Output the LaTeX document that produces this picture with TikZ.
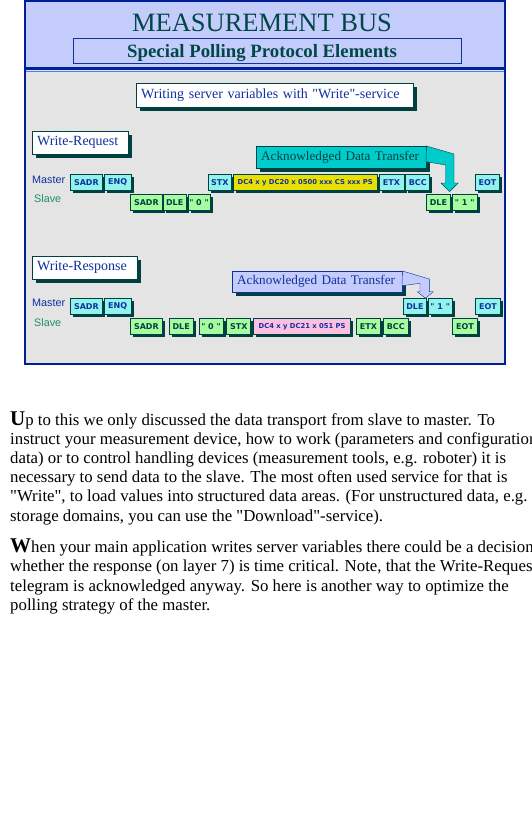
\documentclass[tikz,border=0pt]{standalone}
\usepackage{fontspec}
\setmainfont{Liberation Serif}[Ligatures=TeXOff]
\setsansfont{Liberation Sans}[Ligatures=TeXOff]
\newfontfamily\pixfont{DejaVu Sans}[Ligatures=TeXOff]
\usetikzlibrary{shapes, arrows, positioning, shadows}

\definecolor{headbg}{RGB}{196,204,252}
\definecolor{graybg}{RGB}{228,228,228}
\definecolor{framec}{RGB}{0,32,150}
\definecolor{lightline}{RGB}{64,128,255}
\definecolor{titlec}{RGB}{0,72,72}
\definecolor{inktext}{RGB}{16,48,160}
\definecolor{slavec}{RGB}{32,144,96}
\definecolor{shadowc}{RGB}{0,64,64}
\definecolor{mfill}{RGB}{144,244,236}
\definecolor{sfill}{RGB}{168,252,160}
\definecolor{datay}{RGB}{232,224,0}
\definecolor{datap}{RGB}{252,192,224}
\definecolor{ackteal}{RGB}{0,204,204}

\newcommand\capletter[1]{{\fontsize{21}{21}\selectfont\bfseries #1}}

\begin{document}
\begin{tikzpicture}[x=1pt, y=-1pt]
            \tikzstyle{tag}=[draw=shadowc, fill=white, anchor=north west, inner xsep=5pt, inner ysep=0pt, align=left, text=inktext, font=\fontsize{14}{16}\selectfont, drop shadow={shadow xshift=4pt, shadow yshift=-4pt, fill=shadowc, opacity=1}]
            \tikzstyle{ack}=[anchor=north west, inner xsep=5pt, inner ysep=0pt, minimum height=22pt, text width=160pt, align=left, font=\fontsize{13.2}{14}\selectfont, drop shadow={shadow xshift=3.5pt, shadow yshift=-3.5pt, fill=shadowc, opacity=1}]
            \tikzstyle{cell}=[draw=shadowc, line width=0.8pt, minimum height=16pt, inner sep=0pt, anchor=north west, font=\pixfont\bfseries\fontsize{8}{8}\selectfont, drop shadow={shadow xshift=2.5pt, shadow yshift=-2.5pt, fill=shadowc, opacity=1}]
            \tikzstyle{mcell}=[cell, fill=mfill, text=inktext]
            \tikzstyle{scell}=[cell, fill=sfill, text=shadowc]
            \tikzstyle{datacell}=[cell, text=inktext, font=\pixfont\bfseries\fontsize{6.8}{8}\selectfont]
            \tikzstyle{rowlabel}=[anchor=west, inner sep=0pt, font=\sffamily\fontsize{10.8}{12}\selectfont]
            \tikzstyle{body}=[anchor=base west, inner sep=0pt, font=\fontsize{16.8}{19}\selectfont]
            \clip (0,0) rectangle (531,840);
            \fill[white] (0,0) rectangle (531,840);
            \fill[graybg] (25,1) rectangle (505,364);
            \fill[headbg] (25,1) rectangle (505,67);
            \fill[framec] (25,67) rectangle (505,70.5);
            \draw[lightline, line width=1pt] (25,72) -- (505,72);
            \draw[framec, line width=1.5pt] (25,1) rectangle (505,364);
            \node[anchor=base, text=titlec, font=\fontsize{26.5}{30}\selectfont] (title) at (262,31.5) {MEASUREMENT BUS};
            \node[draw=inktext, line width=1pt, minimum width=388pt, minimum height=25pt, inner sep=0pt, anchor=north west] (subbox) at (73,38) {};
            \node[anchor=base, text=titlec, font=\bfseries\fontsize{18.8}{20}\selectfont] (subtitle) at (262,57.5) {Special Polling Protocol Elements};
            \node[tag, text width=267pt, minimum height=24pt] (writing) at (136,83) {Writing server variables with "Write"-service};
            \node[tag, text width=86pt, minimum height=23pt] (request) at (32,131) {Write-Request};
            \node[tag, text width=95pt, minimum height=23pt] (response) at (32,256) {Write-Response};
            \node[rowlabel, text=inktext] (rqmaster) at (32,180) {Master};
            \node[rowlabel, text=slavec] (rqslave) at (34,199) {Slave};
            \node[rowlabel, text=inktext] (rsmaster) at (32,303) {Master};
            \node[rowlabel, text=slavec] (rsslave) at (34,323) {Slave};
            \node[mcell, minimum width=32pt] (rqmSADR) at (70,174) {SADR};
            \node[mcell, minimum width=27pt, right=1pt of rqmSADR] (rqmENQ) {ENQ};
            \node[mcell, minimum width=23pt] (rqmSTX) at (208,174) {STX};
            \node[datacell, fill=datay, minimum width=144pt, right=1pt of rqmSTX] (rqmDATA) {DC4 x y DC20 x 0500 xxx CS xxx PS};
            \node[mcell, minimum width=25pt, right=1pt of rqmDATA] (rqmETX) {ETX};
            \node[mcell, minimum width=24pt, right=1pt of rqmETX] (rqmBCC) {BCC};
            \node[mcell, minimum width=24pt] (rqmEOT) at (475,174) {EOT};
            \node[scell, minimum width=32pt] (rqsSADR) at (130,194) {SADR};
            \node[scell, minimum width=23pt, right=0pt of rqsSADR] (rqsDLE) {DLE};
            \node[scell, minimum width=22pt, right=1pt of rqsDLE] (rqsNULL) {" 0 "};
            \node[scell, minimum width=24pt] (rqsDLEb) at (426,194) {DLE};
            \node[scell, minimum width=25pt, right=1pt of rqsDLEb] (rqsONE) {" 1 "};
            \node[mcell, minimum width=32pt] (rsmSADR) at (70,298) {SADR};
            \node[mcell, minimum width=27pt, right=1pt of rsmSADR] (rsmENQ) {ENQ};
            \node[mcell, minimum width=23pt] (rsmDLE) at (403,298) {DLE};
            \node[mcell, minimum width=24pt, right=1pt of rsmDLE] (rsmONE) {" 1 "};
            \node[mcell, minimum width=25pt] (rsmEOT) at (475,298) {EOT};
            \node[scell, minimum width=32pt] (rssSADR) at (130,318) {SADR};
            \node[scell, minimum width=24pt, right=6pt of rssSADR] (rssDLE) {DLE};
            \node[scell, minimum width=24pt, right=5pt of rssDLE] (rssNULL) {" 0 "};
            \node[scell, minimum width=24pt, right=3pt of rssNULL] (rssSTX) {STX};
            \node[datacell, fill=datap, minimum width=97pt, right=2pt of rssSTX] (rssDATA) {DC4 x y DC21 x 051 PS};
            \node[scell, minimum width=24pt, right=5pt of rssDATA] (rssETX) {ETX};
            \node[scell, minimum width=25pt, right=2pt of rssETX] (rssBCC) {BCC};
            \node[scell, minimum width=25pt] (rssEOT) at (452,318) {EOT};
            \node[ack, fill=ackteal, draw=shadowc, text=shadowc] (ackreq) at (256,146) {Acknowledged Data Transfer};
            \filldraw[fill=ackteal, draw=shadowc] (ackreq.north east) -- (454,154) -- (454,183) -- (458.3,183) -- (449.5,191.7) -- (441,183) -- (445.7,183) -- (445.7,165) -- (426,161.7) -- cycle;
            \node[ack, fill=headbg, draw=inktext, text=inktext, minimum height=21pt] (ackres) at (232,271) {Acknowledged Data Transfer};
            \filldraw[fill=headbg, draw=inktext] (ackres.north east) -- (429.3,279) -- (429.3,291.7) -- (433.3,291.7) -- (425.5,298.3) -- (417.3,291.7) -- (420,291.7) -- (420,283.3) -- (402,285.7) -- cycle;
            \node[body] (pa1) at (10,425) {\capletter{U}p to this we only discussed the data transport from slave to master. To};
            \node[body] (pa2) at (10,444.2) {instruct your measurement device, how to work (parameters and configuration};
            \node[body] (pa3) at (10,463.4) {data) or to control handling devices (measurement tools, e.g. roboter) it is};
            \node[body] (pa4) at (10,482.6) {necessary to send data to the slave. The most often used service for that is};
            \node[body] (pa5) at (10,501.8) {"Write", to load values into structured data areas. (For unstructured data, e.g.};
            \node[body] (pa6) at (10,521) {storage domains, you can use the "Download"-service).};
            \node[body] (pb1) at (10,552.7) {\capletter{W}hen your main application writes server variables there could be a decision};
            \node[body] (pb2) at (10,571.9) {whether the response (on layer 7) is time critical. Note, that the Write-Request};
            \node[body] (pb3) at (10,591.1) {telegram is acknowledged anyway. So here is another way to optimize the};
            \node[body] (pb4) at (10,610.3) {polling strategy of the master.};
\end{tikzpicture}
\end{document}
